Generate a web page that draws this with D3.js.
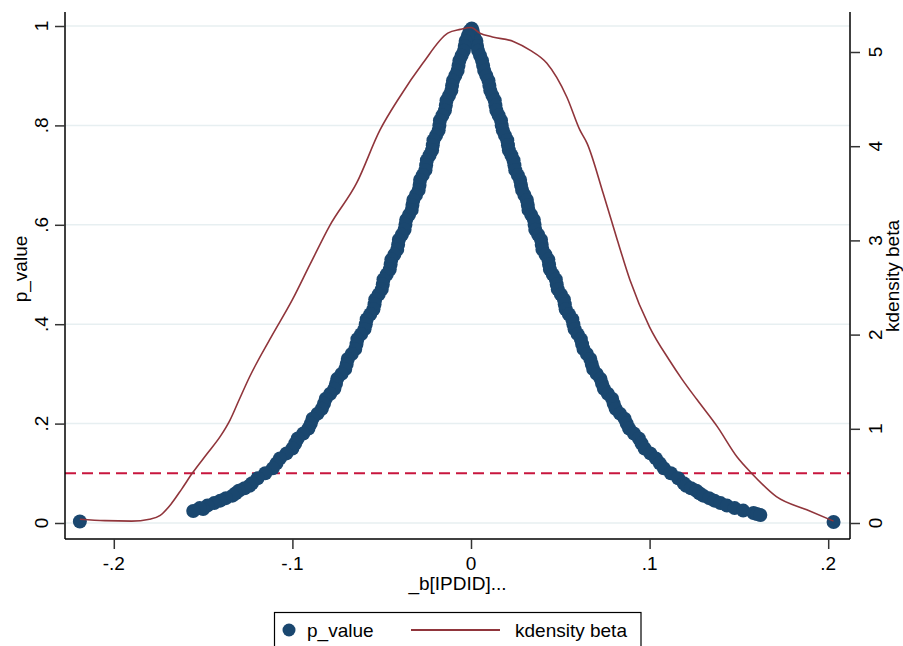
<!DOCTYPE html>
<html>
<head>
<meta charset="utf-8">
<script src="https://cdn.jsdelivr.net/npm/d3@7/dist/d3.min.js"></script>
<style>
  html, body { margin: 0; padding: 0; background: #fff; }
  svg { display: block; font-family: "Liberation Sans", Arial, sans-serif; }
</style>
</head>
<body>
<svg id="chart" width="903" height="646"></svg>
<script>
// ---- data ----
// scatter: beta estimate vs p_value
const betaRight = [0.0004,0.0010,0.0017,0.0030,0.0034,0.0040,0.0051,0.0062,0.0068,0.0074,0.0086,0.0098,0.0103,0.0108,0.0120,0.0133,0.0137,0.0142,0.0155,0.0168,0.0172,0.0178,0.0190,0.0203,0.0207,0.0212,0.0226,0.0238,0.0243,0.0248,0.0262,0.0275,0.0280,0.0286,0.0299,0.0313,0.0318,0.0322,0.0337,0.0352,0.0356,0.0360,0.0376,0.0392,0.0396,0.0400,0.0417,0.0433,0.0437,0.0442,0.0458,0.0475,0.0480,0.0486,0.0503,0.0520,0.0525,0.0530,0.0548,0.0567,0.0573,0.0580,0.0597,0.0615,0.0622,0.0630,0.0649,0.0668,0.0676,0.0684,0.0704,0.0725,0.0734,0.0744,0.0766,0.0790,0.0799,0.0810,0.0834,0.0860,0.0872,0.0885,0.0912,0.0940,0.0955,0.0972,0.1004,0.1035,0.1057,0.1080,0.1119,0.1160,0.1191,0.1205,0.1232,0.1262,0.1279,0.1300,0.1333,0.1363,0.1397,0.1433,0.1476,0.1524,0.1582,0.1600,0.1620,0.2030];
const pRight    = [0.995,0.99,0.98,0.97,0.96,0.95,0.94,0.93,0.92,0.91,0.90,0.89,0.88,0.87,0.86,0.85,0.84,0.83,0.82,0.81,0.80,0.79,0.78,0.77,0.76,0.75,0.74,0.73,0.72,0.71,0.70,0.69,0.68,0.67,0.66,0.65,0.64,0.63,0.62,0.61,0.60,0.59,0.58,0.57,0.56,0.55,0.54,0.53,0.52,0.51,0.50,0.49,0.48,0.47,0.46,0.45,0.44,0.43,0.42,0.41,0.40,0.39,0.38,0.37,0.36,0.35,0.34,0.33,0.32,0.31,0.30,0.29,0.28,0.27,0.26,0.25,0.24,0.23,0.22,0.21,0.20,0.19,0.18,0.17,0.16,0.15,0.14,0.13,0.12,0.11,0.10,0.09,0.08,0.075,0.07,0.065,0.06,0.055,0.05,0.045,0.04,0.035,0.03,0.025,0.02,0.018,0.016,0.002];
const betaLeft  = [-0.0008,-0.0018,-0.0030,-0.0035,-0.0040,-0.0053,-0.0065,-0.0070,-0.0075,-0.0088,-0.0101,-0.0106,-0.0110,-0.0123,-0.0137,-0.0141,-0.0146,-0.0160,-0.0174,-0.0177,-0.0181,-0.0195,-0.0210,-0.0214,-0.0218,-0.0232,-0.0247,-0.0251,-0.0255,-0.0270,-0.0285,-0.0288,-0.0293,-0.0308,-0.0323,-0.0328,-0.0332,-0.0347,-0.0363,-0.0367,-0.0372,-0.0387,-0.0404,-0.0408,-0.0413,-0.0429,-0.0446,-0.0450,-0.0455,-0.0472,-0.0490,-0.0494,-0.0500,-0.0517,-0.0536,-0.0540,-0.0546,-0.0564,-0.0584,-0.0589,-0.0596,-0.0615,-0.0636,-0.0641,-0.0648,-0.0668,-0.0690,-0.0696,-0.0704,-0.0725,-0.0749,-0.0756,-0.0765,-0.0788,-0.0813,-0.0823,-0.0835,-0.0859,-0.0887,-0.0897,-0.0910,-0.0939,-0.0970,-0.0984,-0.1000,-0.1033,-0.1070,-0.1089,-0.1110,-0.1152,-0.1195,-0.1226,-0.1240,-0.1268,-0.1300,-0.1317,-0.1335,-0.1372,-0.1404,-0.1438,-0.1476,-0.1500,-0.1519,-0.1555,-0.2190];
const pLeft     = [0.99,0.98,0.97,0.96,0.95,0.94,0.93,0.92,0.91,0.90,0.89,0.88,0.87,0.86,0.85,0.84,0.83,0.82,0.81,0.80,0.79,0.78,0.77,0.76,0.75,0.74,0.73,0.72,0.71,0.70,0.69,0.68,0.67,0.66,0.65,0.64,0.63,0.62,0.61,0.60,0.59,0.58,0.57,0.56,0.55,0.54,0.53,0.52,0.51,0.50,0.49,0.48,0.47,0.46,0.45,0.44,0.43,0.42,0.41,0.40,0.39,0.38,0.37,0.36,0.35,0.34,0.33,0.32,0.31,0.30,0.29,0.28,0.27,0.26,0.25,0.24,0.23,0.22,0.21,0.20,0.19,0.18,0.17,0.16,0.15,0.14,0.13,0.12,0.11,0.10,0.09,0.08,0.075,0.07,0.065,0.06,0.055,0.05,0.045,0.04,0.035,0.028,0.03,0.024,0.003];

// kernel density of beta (right axis)
const densX = [-0.219,-0.205,-0.190,-0.180,-0.174,-0.168,-0.162,-0.156,-0.148,-0.140,-0.135,-0.130,-0.124,-0.112,-0.100,-0.090,-0.079,-0.064,-0.051,-0.040,-0.027,-0.013,-0.006,0.000,0.005,0.012,0.024,0.033,0.0425,0.0537,0.061,0.065,0.074,0.082,0.089,0.100,0.111,0.118,0.1265,0.138,0.149,0.157,0.171,0.188,0.203];
const densY = [0.04,0.025,0.02,0.04,0.08,0.20,0.36,0.53,0.73,0.93,1.09,1.30,1.55,1.97,2.37,2.75,3.16,3.61,4.17,4.52,4.88,5.20,5.24,5.26,5.20,5.16,5.11,5.02,4.88,4.52,4.17,4.03,3.50,3.00,2.58,2.08,1.73,1.53,1.31,1.02,0.70,0.53,0.28,0.14,0.02];

const refLine = 0.1;
const xTickVals = [-0.2,-0.1,0,0.1,0.2];
const xTickLabels = ["-.2","-.1","0",".1",".2"];
const yLTickVals = [0,0.2,0.4,0.6,0.8,1];
const yLTickLabels = ["0",".2",".4",".6",".8","1"];
const yRTickVals = [0,1,2,3,4,5];
const yRTickLabels = ["0","1","2","3","4","5"];
const legendLabels = ["p_value","kdensity beta"];

// ---- layout ----
const svg = d3.select("#chart");
const plotL = 65, plotR = 850, plotT = 12, plotB = 539;
const x = d3.scaleLinear().domain([-0.2, 0.2]).range([113.8, 828.2]);
const yL = d3.scaleLinear().domain([0, 1]).range([523, 26]);
const yR = d3.scaleLinear().domain([0, 5]).range([523, 52]);

const navy = "#1a476f", maroon = "#90353b", crimson = "#c8163e";
const fontSize = 19;

svg.append("rect").attr("width", 903).attr("height", 646).attr("fill", "#fff");

// grid lines
svg.append("g").selectAll("line").data(yLTickVals).join("line")
  .attr("x1", plotL).attr("x2", plotR)
  .attr("y1", d => yL(d)).attr("y2", d => yL(d))
  .attr("stroke", "#e7eff1").attr("stroke-width", 1.5);

// reference line
svg.append("line")
  .attr("x1", plotL).attr("x2", plotR)
  .attr("y1", yL(refLine)).attr("y2", yL(refLine))
  .attr("stroke", crimson).attr("stroke-width", 2)
  .attr("stroke-dasharray", "11,6");

// scatter
const pts = betaRight.map((b, i) => [b, pRight[i]]).concat(betaLeft.map((b, i) => [b, pLeft[i]]));
svg.append("g").selectAll("circle").data(pts).join("circle")
  .attr("cx", d => x(d[0])).attr("cy", d => yL(d[1])).attr("r", 7)
  .attr("fill", navy);

// density line
const dens = densX.map((b, i) => [b, densY[i]]);
svg.append("path").datum(dens)
  .attr("d", d3.line().x(d => x(d[0])).y(d => yR(d[1])).curve(d3.curveMonotoneX))
  .attr("fill", "none").attr("stroke", maroon).attr("stroke-width", 1.6);

// axes lines
const axisCol = "#000";
svg.append("line").attr("x1", plotL).attr("x2", plotL).attr("y1", plotT).attr("y2", plotB).attr("stroke", axisCol).attr("stroke-width", 1.5);
svg.append("line").attr("x1", plotR).attr("x2", plotR).attr("y1", plotT).attr("y2", plotB).attr("stroke", axisCol).attr("stroke-width", 1.5);
svg.append("line").attr("x1", plotL).attr("x2", plotR).attr("y1", plotB).attr("y2", plotB).attr("stroke", axisCol).attr("stroke-width", 1.5);

// left axis ticks
const gL = svg.append("g").attr("transform", `translate(${plotL},0)`)
  .call(d3.axisLeft(yL).tickValues(yLTickVals).tickSize(10).tickFormat(""));
gL.select(".domain").remove();
gL.selectAll(".tick line").attr("stroke", "#333").attr("stroke-width", 1.5);
svg.append("g").selectAll("text").data(yLTickVals).join("text")
  .attr("transform", d => `translate(48,${yL(d)}) rotate(-90)`)
  .attr("text-anchor", "middle").attr("font-size", fontSize).attr("fill", "#000")
  .text((d, i) => yLTickLabels[i]);

// right axis ticks
const gR = svg.append("g").attr("transform", `translate(${plotR},0)`)
  .call(d3.axisRight(yR).tickValues(yRTickVals).tickSize(10).tickFormat(""));
gR.select(".domain").remove();
gR.selectAll(".tick line").attr("stroke", "#333").attr("stroke-width", 1.5);
svg.append("g").selectAll("text").data(yRTickVals).join("text")
  .attr("transform", d => `translate(882,${yR(d)}) rotate(-90)`)
  .attr("text-anchor", "middle").attr("font-size", fontSize).attr("fill", "#000")
  .text((d, i) => yRTickLabels[i]);

// bottom axis ticks
const gB = svg.append("g").attr("transform", `translate(0,${plotB})`)
  .call(d3.axisBottom(x).tickValues(xTickVals).tickSize(10).tickFormat(""));
gB.select(".domain").remove();
gB.selectAll(".tick line").attr("stroke", "#333").attr("stroke-width", 1.5);
svg.append("g").selectAll("text").data(xTickVals).join("text")
  .attr("x", d => x(d)).attr("y", 570)
  .attr("text-anchor", "middle").attr("font-size", fontSize).attr("fill", "#000")
  .text((d, i) => xTickLabels[i]);

// axis titles
svg.append("text").attr("transform", "translate(27,269) rotate(-90)")
  .attr("text-anchor", "middle").attr("font-size", fontSize).text("p_value");
svg.append("text").attr("transform", "translate(899,276) rotate(-90)")
  .attr("text-anchor", "middle").attr("font-size", fontSize).text("kdensity beta");
svg.append("text").attr("x", (plotL + plotR) / 2).attr("y", 590)
  .attr("text-anchor", "middle").attr("font-size", fontSize).text("_b[IPDID]...");

// legend
const lg = svg.append("g");
lg.append("rect").attr("x", 274.5).attr("y", 612.5).attr("width", 366.5).attr("height", 50)
  .attr("fill", "#fff").attr("stroke", "#000").attr("stroke-width", 1.2);
lg.append("circle").attr("cx", 289).attr("cy", 630).attr("r", 6.5).attr("fill", navy);
lg.append("text").attr("x", 307).attr("y", 637).attr("font-size", fontSize).text(legendLabels[0]);
lg.append("line").attr("x1", 411).attr("x2", 500).attr("y1", 630).attr("y2", 630)
  .attr("stroke", maroon).attr("stroke-width", 1.8);
lg.append("text").attr("x", 515).attr("y", 637).attr("font-size", fontSize).text(legendLabels[1]);
</script>
</body>
</html>
